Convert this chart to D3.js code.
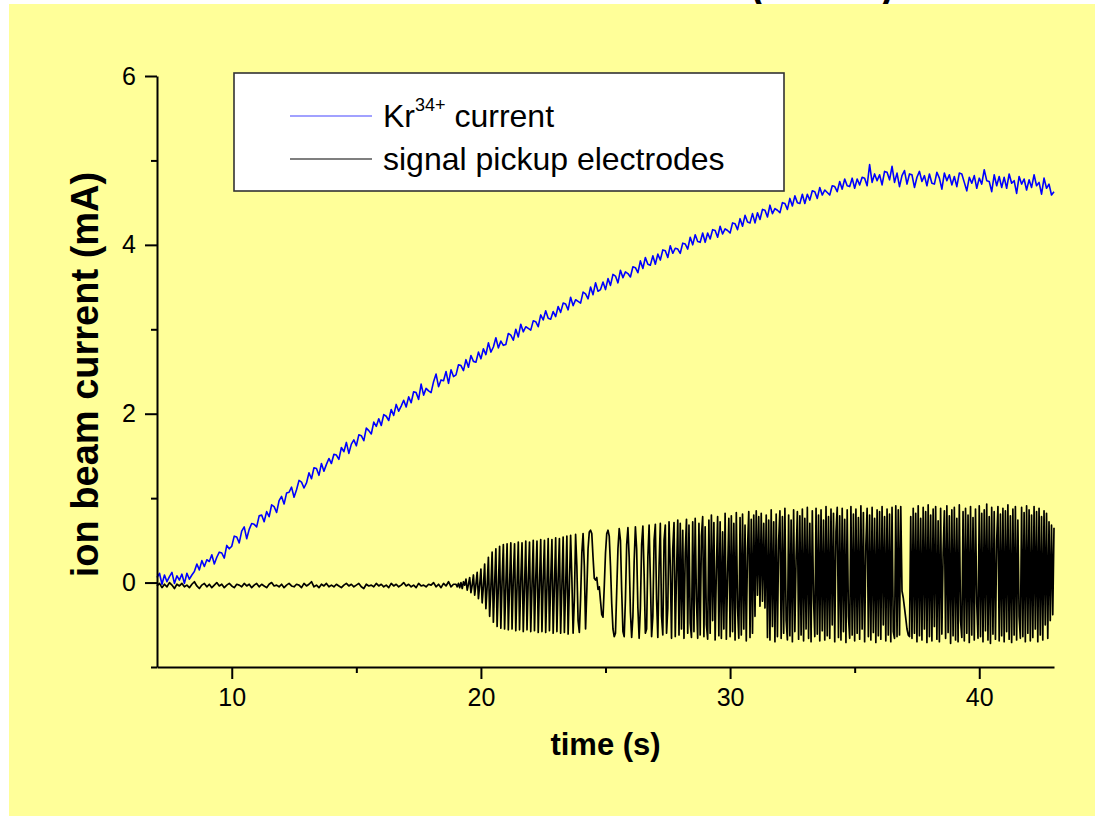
<!DOCTYPE html>
<html>
<head>
<meta charset="utf-8">
<script src="https://cdn.jsdelivr.net/npm/d3@7"></script>
<style>
  html, body { margin: 0; padding: 0; background: #ffffff; }
  svg { display: block; font-family: "Liberation Sans", Arial, sans-serif; }
  .tick text { font-size: 25px; font-family: "Liberation Sans", Arial, sans-serif; fill: #000; }
</style>
</head>
<body>
<svg id="chart" width="1095" height="818"></svg>
<script>
// Axis ranges and tick values
const xDomain = [7, 43];
const yDomain = [-1, 6];
const xMajorTicks = [10, 20, 30, 40];
const xMinorTicks = [15, 25, 35];
const yMajorTicks = [0, 2, 4, 6];
const yMinorTicks = [-1, 1, 3, 5];

// Kr34+ beam current (mA), sampled every 0.1 s from t = 7.0 s
const currentStart = 7.0;
const currentStep = 0.1;
const currentValues = [
  0.06, 0.11, -0.02, 0.09, 0.01, 0.07, 0.12, -0.01, 0.08, 0.03,
  0.10, -0.01, 0.11, 0.04, 0.09, 0.13, 0.22, 0.15, 0.26, 0.19,
  0.27, 0.25, 0.33, 0.22, 0.30, 0.36, 0.35, 0.29, 0.44, 0.40,
  0.43, 0.55, 0.54, 0.47, 0.61, 0.66, 0.52, 0.63, 0.70, 0.69,
  0.66, 0.79, 0.80, 0.72, 0.84, 0.78, 0.92, 0.90, 0.83, 0.97,
  1.02, 0.93, 1.06, 1.07, 1.13, 1.01, 1.10, 1.21, 1.19, 1.12,
  1.18, 1.30, 1.23, 1.36, 1.35, 1.27, 1.41, 1.32, 1.40, 1.47,
  1.41, 1.52, 1.51, 1.46, 1.60, 1.55, 1.66, 1.53, 1.64, 1.69,
  1.62, 1.75, 1.74, 1.68, 1.83, 1.80, 1.76, 1.90, 1.85, 1.94,
  1.86, 1.99, 1.97, 1.92, 2.05, 1.98, 2.11, 2.03, 2.09, 2.16,
  2.08, 2.20, 2.13, 2.26, 2.25, 2.17, 2.35, 2.22, 2.30, 2.27,
  2.25, 2.38, 2.47, 2.32, 2.40, 2.39, 2.50, 2.36, 2.52, 2.44,
  2.46, 2.58, 2.57, 2.51, 2.64, 2.55, 2.69, 2.62, 2.61, 2.73,
  2.65, 2.77, 2.70, 2.84, 2.73, 2.79, 2.90, 2.78, 2.86, 2.81,
  2.82, 2.95, 2.93, 2.87, 3.00, 2.91, 3.06, 2.97, 3.03, 3.01,
  2.99, 3.10, 3.09, 3.03, 3.17, 3.11, 3.22, 3.13, 3.12, 3.21,
  3.15, 3.27, 3.20, 3.31, 3.30, 3.23, 3.38, 3.28, 3.35, 3.33,
  3.31, 3.44, 3.42, 3.36, 3.50, 3.41, 3.55, 3.45, 3.47, 3.56,
  3.47, 3.60, 3.52, 3.65, 3.63, 3.55, 3.70, 3.61, 3.68, 3.66,
  3.62, 3.74, 3.73, 3.67, 3.81, 3.72, 3.85, 3.77, 3.76, 3.87,
  3.77, 3.89, 3.82, 3.94, 3.93, 3.85, 3.99, 3.90, 3.96, 3.95,
  3.90, 4.02, 4.01, 3.95, 4.09, 4.00, 4.12, 4.04, 4.03, 4.14,
  4.03, 4.14, 4.07, 4.18, 4.17, 4.09, 4.22, 4.13, 4.19, 4.17,
  4.14, 4.26, 4.25, 4.18, 4.31, 4.22, 4.35, 4.27, 4.26, 4.37,
  4.26, 4.38, 4.30, 4.42, 4.41, 4.33, 4.47, 4.37, 4.43, 4.41,
  4.38, 4.50, 4.49, 4.42, 4.55, 4.46, 4.58, 4.50, 4.49, 4.60,
  4.49, 4.60, 4.53, 4.64, 4.63, 4.55, 4.68, 4.59, 4.65, 4.62,
  4.59, 4.70, 4.69, 4.63, 4.75, 4.66, 4.78, 4.70, 4.69, 4.79,
  4.67, 4.78, 4.71, 4.80, 4.79, 4.70, 4.95, 4.74, 4.84, 4.76,
  4.83, 4.71, 4.87, 4.86, 4.77, 4.93, 4.74, 4.85, 4.69, 4.82,
  4.88, 4.72, 4.84, 4.83, 4.68, 4.80, 4.87, 4.75, 4.82, 4.70,
  4.84, 4.73, 4.72, 4.86, 4.79, 4.66, 4.85, 4.76, 4.83, 4.71,
  4.81, 4.69, 4.85, 4.84, 4.74, 4.64, 4.80, 4.73, 4.82, 4.67,
  4.79, 4.72, 4.89, 4.76, 4.75, 4.63, 4.83, 4.70, 4.81, 4.68,
  4.80, 4.67, 4.84, 4.73, 4.76, 4.61, 4.81, 4.72, 4.78, 4.65,
  4.77, 4.68, 4.83, 4.70, 4.74, 4.60, 4.79, 4.67, 4.72, 4.59,
  4.63
];

// Pickup electrode signal before the beam instability, every 0.1 s from t = 7.0 s
const pickupQuietStart = 7.0;
const pickupQuietStep = 0.1;
const pickupQuietValues = [
  -0.04, -0.01, -0.06, -0.02, -0.05, 0.00, -0.03, -0.07, -0.02, -0.04,
  -0.01, -0.05, -0.03, -0.06, -0.02, 0.01, -0.04, -0.07, -0.03, -0.01,
  -0.05, -0.02, -0.06, -0.03, 0.00, -0.04, -0.02, -0.06, -0.03, -0.01,
  -0.04, -0.06, -0.02, -0.03, -0.05, -0.01, -0.04, -0.02, -0.06, -0.03,
  -0.01, -0.05, -0.02, -0.04, -0.06, -0.02, 0.00, -0.04, -0.03, -0.05,
  -0.02, -0.06, -0.03, -0.01, -0.04, -0.05, -0.02, -0.03, -0.06, -0.01,
  -0.04, -0.02, 0.01, -0.05, -0.03, -0.06, -0.02, -0.04, -0.01, -0.05,
  -0.03, -0.05, -0.02, -0.04, -0.06, -0.03, -0.01, -0.04, -0.02, -0.05,
  -0.03, -0.01, -0.05, -0.07, -0.02, -0.04, -0.03, -0.05, -0.01, -0.04,
  -0.02, -0.05, -0.03, -0.06, -0.01, -0.04, -0.02, -0.05, -0.03, 0.00,
  -0.04, -0.02, -0.05, -0.03, -0.06, -0.01, -0.04, -0.03, -0.05, -0.02,
  -0.03, 0.00, -0.05, -0.02, -0.06, -0.01, -0.04, 0.01, -0.05, -0.02
];

// Pickup electrode signal during the oscillation, every 0.05 s from t = 19.0 s
const pickupOscStart = 19.0;
const pickupOscStep = 0.05;
const pickupOscValues = [
  -0.02, -0.05, -0.01, -0.06, 0.00, -0.07, 0.01, -0.03, 0.04, -0.09, -0.02, 0.06, -0.12, -0.03, 0.09, -0.15, -0.02, 0.12, -0.19, -0.03,
  0.16, -0.24, -0.04, 0.22, -0.31, -0.05, 0.30, -0.40, -0.06, 0.36, -0.47, -0.02, 0.40, -0.52, -0.04, 0.43, -0.54, 0.02, 0.45, -0.55,
  -0.05, 0.46, -0.56, -0.03, 0.47, -0.55, 0.05, 0.46, -0.57, -0.04, 0.48, -0.56, 0.02, 0.47, -0.58, -0.05, 0.49, -0.56, 0.03, 0.48,
  -0.58, -0.04, 0.50, -0.57, 0.04, 0.49, -0.59, -0.02, 0.51, -0.58, 0.03, 0.50, -0.59, -0.05, 0.52, -0.57, 0.02, 0.51, -0.60, -0.03,
  0.53, -0.58, 0.05, 0.52, -0.60, -0.04, 0.54, -0.59, -0.06, 0.55, -0.61, -0.05, 0.56, 0.05, -0.60, -0.20, 0.57, 0.20, -0.45, -0.59,
  -0.20, 0.35, 0.58, 0.20, -0.55, -0.10, 0.40, 0.60, 0.62, 0.58, 0.30, 0.05, 0.03, 0.06, -0.08, -0.05, -0.22, -0.38, -0.41, -0.05,
  0.35, 0.58, 0.62, 0.55, 0.20, -0.25, -0.55, -0.64, -0.60, -0.10, 0.40, 0.64, 0.50, -0.10, -0.58, -0.64, -0.20, 0.45, 0.65, 0.30,
  -0.35, -0.65, -0.40, 0.25, 0.66, 0.40, -0.30, -0.66, -0.30, 0.45, 0.67, 0.10, -0.60, -0.55, 0.30, 0.68, 0.05, -0.64, -0.40, 0.50,
  0.69, -0.20, -0.65, 0.20, 0.70, -0.40, -0.62, 0.50, 0.68, -0.60, -0.30, 0.72, 0.20, -0.66, 0.40, 0.71, -0.64, 0.10, 0.74, -0.62,
  0.70, -0.55, 0.62, -0.66, 0.35, 0.75, -0.60, 0.68, -0.48, -0.65, 0.72, -0.58, 0.76, -0.20, -0.66, 0.70, -0.62, 0.55, 0.78, -0.64,
  0.66, -0.50, -0.67, 0.74, -0.60, 0.80, -0.45, 0.71, -0.68, 0.15, 0.78, -0.63, 0.72, -0.66, 0.60, -0.55, 0.82, -0.67, 0.10, 0.76,
  -0.64, 0.79, -0.58, 0.70, -0.68, 0.83, -0.30, -0.66, 0.77, -0.62, 0.81, -0.55, 0.68, -0.69, 0.40, 0.84, -0.65, 0.75, -0.60, 0.80,
  -0.40, 0.85, -0.15, 0.78, -0.28, 0.82, -0.22, 0.70, -0.30, 0.80, -0.65, 0.74, -0.68, 0.86, -0.52, 0.72, -0.70, 0.81, -0.64, 0.50,
  0.85, -0.66, 0.78, -0.60, 0.88, -0.45, -0.68, 0.80, -0.63, 0.74, -0.70, 0.86, -0.58, 0.30, 0.84, -0.67, 0.79, -0.62, 0.87, -0.69,
  0.76, -0.55, 0.89, -0.66, 0.70, -0.70, 0.85, -0.20, -0.64, 0.88, -0.61, 0.80, -0.69, 0.86, -0.57, 0.74, -0.68, 0.90, -0.63, 0.78,
  -0.66, 0.87, -0.50, 0.82, -0.70, 0.60, 0.89, -0.65, 0.79, -0.68, 0.88, -0.58, 0.75, -0.71, 0.86, -0.40, -0.66, 0.90, -0.62, 0.81,
  -0.69, 0.87, -0.60, 0.77, -0.67, 0.91, -0.55, 0.83, -0.70, 0.45, 0.88, -0.64, 0.80, -0.68, 0.89, -0.59, 0.76, -0.71, 0.86, -0.63,
  0.84, -0.67, 0.90, -0.50, 0.78, -0.69, 0.87, -0.62, 0.81, -0.70, 0.89, -0.58, -0.66, 0.91, -0.64, 0.86, -0.62, 0.90, -0.10, -0.18,
  -0.30, -0.42, -0.55, -0.62, -0.64, 0.78, -0.66, 0.88, -0.60, 0.82, -0.70, 0.91, -0.63, 0.76, -0.68, 0.89, -0.55, 0.84, -0.71, 0.92,
  -0.64, 0.80, -0.69, 0.87, -0.52, 0.90, -0.67, 0.73, -0.70, 0.88, -0.61, 0.35, 0.85, -0.66, 0.91, -0.59, 0.79, -0.72, 0.86, -0.63,
  0.89, -0.68, 0.76, -0.70, 0.92, -0.45, -0.65, 0.84, -0.69, 0.88, -0.60, 0.80, -0.71, 0.90, -0.62, 0.77, -0.68, 0.87, -0.25, -0.66,
  0.91, -0.64, 0.82, -0.70, 0.86, -0.57, 0.93, -0.68, 0.78, -0.72, 0.89, -0.61, 0.84, -0.67, 0.50, 0.90, -0.69, 0.81, -0.63, 0.88,
  -0.70, 0.85, -0.58, 0.92, -0.67, 0.79, -0.71, 0.87, -0.62, 0.90, -0.68, 0.74, -0.40, -0.66, 0.89, -0.64, 0.83, -0.70, 0.91, -0.60,
  0.86, -0.69, 0.80, -0.65, 0.90, -0.55, 0.84, -0.70, 0.88, -0.62, 0.78, -0.68, 0.85, -0.50, 0.82, -0.66, 0.72, -0.45, 0.68, -0.38,
  0.65
];

// Series labels
const seriesNames = ["Kr", "signal pickup electrodes"];
const chartTitle = "Kr34+ ion beam (ECRIS)";

const svg = d3.select("#chart");

// Page title sits in the top margin; the panel below covers all but its lowest part
svg.append("text")
  .attr("x", 893).attr("y", 0)
  .attr("text-anchor", "end")
  .style("font-size", "38px").style("font-weight", "bold")
  .attr("fill", "#000")
  .text(chartTitle);

// Yellow chart panel
svg.append("rect")
  .attr("x", 9).attr("y", 4)
  .attr("width", 1086).attr("height", 812)
  .attr("fill", "#FFFF99");

const plot = { left: 157, right: 1054, top: 76, bottom: 667 };

const x = d3.scaleLinear().domain(xDomain).range([plot.left, plot.right]);
const y = d3.scaleLinear().domain(yDomain).range([plot.bottom, plot.top]);

const toPoints = (start, step, values) => values.map((v, i) => [start + i * step, v]);

const currentPts = toPoints(currentStart, currentStep, currentValues);
const pickupPts = toPoints(pickupQuietStart, pickupQuietStep, pickupQuietValues)
  .concat(toPoints(pickupOscStart, pickupOscStep, pickupOscValues));

const line = d3.line().x(d => x(d[0])).y(d => y(d[1]));

svg.append("path")
  .datum(currentPts)
  .attr("d", line)
  .attr("fill", "none")
  .attr("stroke", "#0000FF")
  .attr("stroke-width", 1.6)
  .attr("stroke-linejoin", "round");

svg.append("path")
  .datum(pickupPts)
  .attr("d", line)
  .attr("fill", "none")
  .attr("stroke", "#000000")
  .attr("stroke-width", 1.7)
  .attr("stroke-linejoin", "round");

// Axes
const axisStyle = g => {
  g.attr("font-size", null).attr("font-family", null);
  g.selectAll(".domain").attr("stroke", "#000").attr("stroke-width", 2);
  g.selectAll(".tick line").attr("stroke", "#000").attr("stroke-width", 2);
};

svg.append("g")
  .attr("transform", `translate(0,${plot.bottom})`)
  .call(d3.axisBottom(x).tickValues(xMajorTicks).tickSize(12).tickSizeOuter(0).tickPadding(9).tickFormat(d3.format("d")))
  .call(axisStyle);

svg.append("g")
  .attr("transform", `translate(0,${plot.bottom})`)
  .call(d3.axisBottom(x).tickValues(xMinorTicks).tickSize(6).tickSizeOuter(0).tickFormat(""))
  .call(axisStyle)
  .call(g => g.select(".domain").remove());

svg.append("g")
  .attr("transform", `translate(${plot.left},0)`)
  .call(d3.axisLeft(y).tickValues(yMajorTicks).tickSize(12).tickSizeOuter(0).tickPadding(9).tickFormat(d3.format("d")))
  .call(axisStyle);

svg.append("g")
  .attr("transform", `translate(${plot.left},0)`)
  .call(d3.axisLeft(y).tickValues(yMinorTicks).tickSize(6).tickSizeOuter(0).tickFormat(""))
  .call(axisStyle)
  .call(g => g.select(".domain").remove());

// Axis titles
svg.append("text")
  .attr("x", (plot.left + plot.right) / 2).attr("y", 755)
  .attr("text-anchor", "middle")
  .style("font-size", "31px").style("font-weight", "bold")
  .text("time (s)");

svg.append("text")
  .attr("transform", `translate(98,${(plot.top + plot.bottom) / 2 + 3}) rotate(-90)`)
  .attr("text-anchor", "middle")
  .style("font-size", "38px").style("font-weight", "bold")
  .text("ion beam current (mA)");

// Legend
const legend = svg.append("g");
legend.append("rect")
  .attr("x", 234).attr("y", 73)
  .attr("width", 550).attr("height", 118)
  .attr("fill", "#ffffff")
  .attr("stroke", "#333333").attr("stroke-width", 1.6);

legend.append("line")
  .attr("x1", 290).attr("x2", 372).attr("y1", 116).attr("y2", 116)
  .attr("stroke", "#4444ff").attr("stroke-width", 1.2);
legend.append("line")
  .attr("x1", 290).attr("x2", 372).attr("y1", 159).attr("y2", 159)
  .attr("stroke", "#000").attr("stroke-width", 1.2);

const kr = legend.append("text")
  .attr("x", 383).attr("y", 127)
  .style("font-size", "32px");
kr.append("tspan").text(seriesNames[0]);
kr.append("tspan").style("font-size", "18px").attr("dy", -16).text("34+");
kr.append("tspan").attr("dy", 16).text(" current");

legend.append("text")
  .attr("x", 383).attr("y", 170)
  .style("font-size", "32px")
  .text(seriesNames[1]);
</script>
</body>
</html>
